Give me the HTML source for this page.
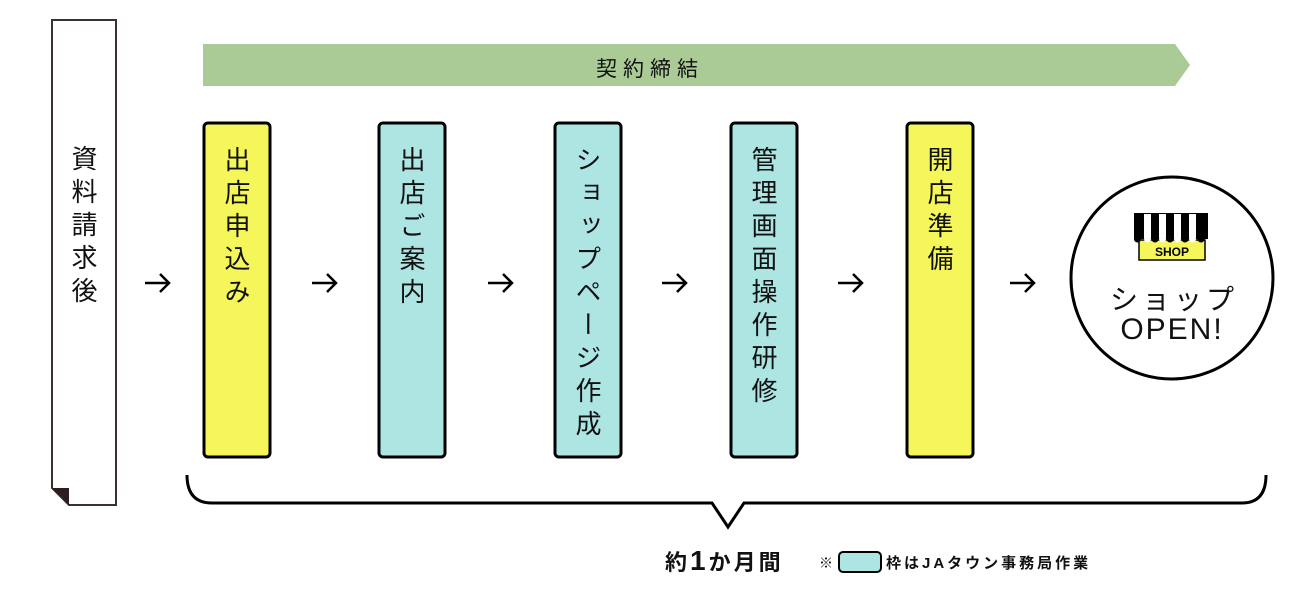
<!DOCTYPE html>
<html><head><meta charset="utf-8"><style>
html,body{margin:0;padding:0;background:#fff;}
body{width:1301px;height:605px;position:relative;overflow:hidden;font-family:"Liberation Sans","Noto Sans CJK JP",sans-serif;color:#111;}
.v{position:absolute;writing-mode:vertical-rl;font-size:26px;letter-spacing:7px;line-height:1;}
.t{position:absolute;white-space:nowrap;}
</style></head><body>
<svg width="1301" height="605" style="position:absolute;left:0;top:0">
<path d="M52,20 H116 V505 H69 L52,488 Z" fill="#fff" stroke="#3a3030" stroke-width="2"/>
<path d="M52,488 L69,488 L69,505 Z" fill="#2a1e1e"/>
<polygon points="203,44 1175,44 1190,65 1175,86 203,86" fill="#abcb96"/>
<g stroke="#000" stroke-width="3">
<rect x="204" y="123" width="66" height="334" rx="4" fill="#f5f65a"/>
<rect x="379" y="123" width="66" height="334" rx="4" fill="#ade5e3"/>
<rect x="555" y="123" width="66" height="334" rx="4" fill="#ade5e3"/>
<rect x="731" y="123" width="66" height="334" rx="4" fill="#ade5e3"/>
<rect x="907" y="123" width="66" height="334" rx="4" fill="#f5f65a"/>
</g>
<g stroke="#000" stroke-width="2.5" fill="none">
<path d="M145,283 H169 M160,274 L169,283 L160,292"/>
<path d="M312,283 H336 M327,274 L336,283 L327,292"/>
<path d="M488,283 H512 M503,274 L512,283 L503,292"/>
<path d="M662,283 H686 M677,274 L686,283 L677,292"/>
<path d="M838,283 H862 M853,274 L862,283 L853,292"/>
<path d="M1010,283 H1034 M1025,274 L1034,283 L1025,292"/>
</g>
<circle cx="1172" cy="278" r="101" fill="#fff" stroke="#000" stroke-width="3"/>
<rect x="1139" y="240" width="66" height="20" fill="#f5f65a" stroke="#000" stroke-width="1.5"/>
<rect x="1134" y="213" width="74" height="26" fill="#000"/>
<g fill="#fff">
<rect x="1144" y="214" width="7" height="24"/><rect x="1159" y="214" width="7" height="24"/><rect x="1174" y="214" width="7" height="24"/><rect x="1189" y="214" width="7" height="24"/>
</g>
<g fill="#000">
<circle cx="1137.5" cy="239" r="3.5"/><circle cx="1147.5" cy="239" r="3.5" fill="#fff"/><circle cx="1155" cy="239" r="3.5"/><circle cx="1162.5" cy="239" r="3.5" fill="#fff"/><circle cx="1170" cy="239" r="3.5"/><circle cx="1177.5" cy="239" r="3.5" fill="#fff"/><circle cx="1185" cy="239" r="3.5"/><circle cx="1192.5" cy="239" r="3.5" fill="#fff"/><circle cx="1201" cy="239" r="3.5"/>
</g>
<text x="1172" y="256" font-size="12" font-weight="bold" text-anchor="middle" font-family="Liberation Sans">SHOP</text>
<path d="M187,475 Q187,503 212,503 H712 L728,527 L744,503 H1242 Q1266,503 1266,475" fill="none" stroke="#000" stroke-width="3"/>
<rect x="839" y="552" width="42" height="20" rx="4" fill="#ade5e3" stroke="#000" stroke-width="2"/>
</svg>
<div class="t" style="left:596px;top:53px;font-size:21px;letter-spacing:6px;">契約締結</div>
<div class="v" style="left:70px;top:145px;">資料請求後</div>
<div class="v" style="left:223px;top:146px;">出店申込み</div>
<div class="v" style="left:398px;top:146px;">出店ご案内</div>
<div class="v" style="left:574px;top:146px;">ショップページ作成</div>
<div class="v" style="left:750px;top:146px;">管理画面操作研修</div>
<div class="v" style="left:926px;top:146px;">開店準備</div>
<div class="t" style="left:1174px;top:278px;transform:translateX(-50%);font-size:28px;letter-spacing:4px;">ショップ</div>
<div class="t" style="left:1172px;top:313px;transform:translateX(-50%);font-size:30px;letter-spacing:2px;">OPEN!</div>
<div class="t" style="left:665px;top:545px;font-size:22px;font-weight:bold;letter-spacing:3px;">約<span style="font-size:28px">1</span>か月間</div>
<div class="t" style="left:819px;top:553px;font-size:14px;">※</div>
<div class="t" style="left:886px;top:552px;font-size:15px;letter-spacing:3px;font-weight:bold;">枠はJAタウン事務局作業</div>
</body></html>
